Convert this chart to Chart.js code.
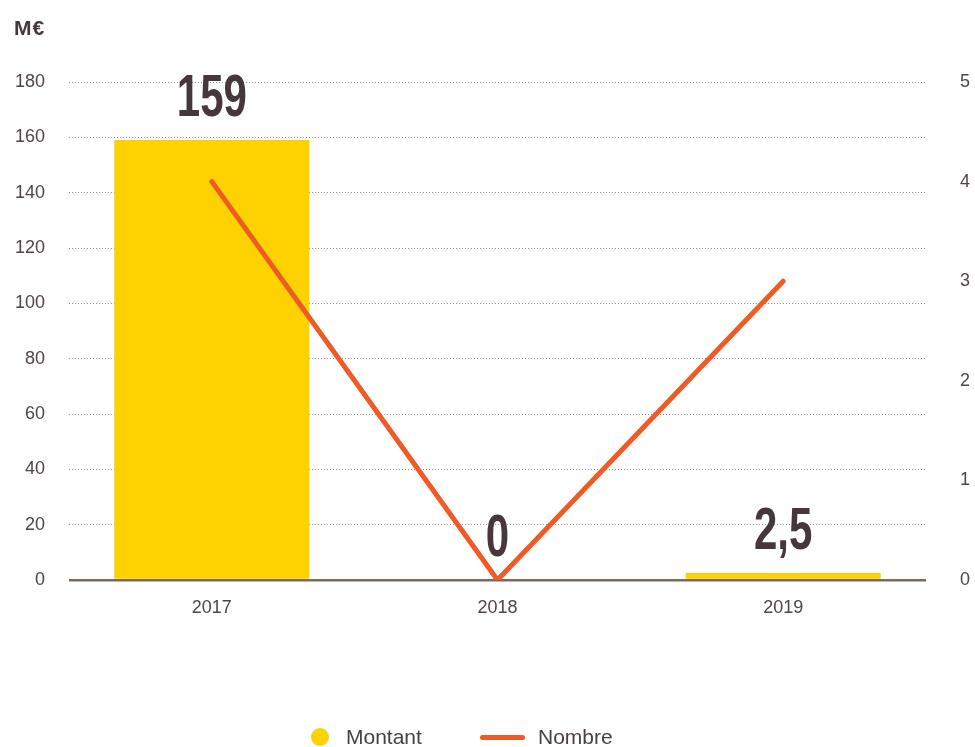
<!DOCTYPE html>
<html>
<head>
<meta charset="utf-8">
<script src="https://cdn.jsdelivr.net/npm/chart.js@4"></script>
<style>
  body { margin: 0; background: #fff; }
  #wrap { position: relative; width: 975px; height: 747px; }
  #unit { position: absolute; left: 14px; top: 16px; font: bold 21px "Liberation Sans", Arial, sans-serif; color: #45373a; letter-spacing: 1px; }
  #legend { position: absolute; top: 724px; left: 0; width: 975px; height: 26px; font: 21px "Liberation Sans", Arial, sans-serif; color: #4a4042; }
  .lg { position: absolute; top: 0; line-height: 26px; }
  .dot { position: absolute; left: 311px; top: 4px; width: 18px; height: 18px; border-radius: 50%; background: #FDD200; }
  .ln { position: absolute; left: 480px; top: 11px; width: 45px; height: 5px; border-radius: 3px; background: #F05A24; }
</style>
</head>
<body>
<div id="wrap">
  <canvas id="myChart" width="975" height="747"></canvas>
  <div id="unit">M€</div>
  <div id="legend">
    <span class="dot"></span><span class="lg" style="left:346px">Montant</span>
    <span class="ln"></span><span class="lg" style="left:538px">Nombre</span>
  </div>
</div>
<script>
// Данные
let years = ["2017", "2018", "2019"];
let montant = [159, 0, 2.5];
let montantLabels = ["159", "0", "2,5"];
let nombre = [4, 0, 3];

// Подписи над столбцами (узкий жирный шрифт)
const barLabels = {
    id: 'barLabels',
    afterDatasetsDraw(chart) {
        let ctx = chart.ctx;
        let meta = chart.getDatasetMeta(1); // столбцы
        ctx.save();
        ctx.fillStyle = '#45373a';
        ctx.font = 'bold 60px "Liberation Sans", Arial, sans-serif';
        ctx.textAlign = 'center';
        ctx.textBaseline = 'alphabetic';
        meta.data.forEach((bar, i) => {
            ctx.save();
            ctx.translate(bar.x, bar.y - 24);
            ctx.scale(0.7, 1);
            ctx.fillText(montantLabels[i], 0, 0);
            ctx.restore();
        });
        ctx.restore();
    }
};

let ctx = document.getElementById('myChart').getContext('2d');
let myChart = new Chart(ctx, {
    data: {
        labels: years,
        datasets: [{
            type: 'line',
            label: 'Nombre',
            data: nombre,
            yAxisID: 'y1',
            borderColor: '#F05A24',
            borderWidth: 5,
            borderCapStyle: 'round',
            pointRadius: 0,
            tension: 0,
            order: 0
        }, {
            type: 'bar',
            label: 'Montant',
            data: montant,
            yAxisID: 'y',
            backgroundColor: '#FDD200',
            categoryPercentage: 0.683,
            barPercentage: 1,
            order: 1
        }]
    },
    options: {
        responsive: false,
        animation: false,
        layout: { padding: { top: 82, left: 0, right: 0, bottom: 0 } },
        plugins: { legend: { display: false }, tooltip: { enabled: false } },
        scales: {
            x: {
                grid: { display: false },
                border: { display: false },
                ticks: { color: '#4f4547', font: { family: '"Liberation Sans", Arial, sans-serif', size: 18 }, padding: 9 },
                afterFit(scale) { scale.height = 167; }
            },
            y: {
                position: 'left',
                min: 0, max: 180,
                ticks: { stepSize: 20, color: '#4f4547', font: { family: '"Liberation Sans", Arial, sans-serif', size: 18 }, padding: 24 },
                grid: {
                    drawTicks: false,
                    color: c => c.tick && c.tick.value === 0 ? '#7a6a64' : '#9a8a88',
                    lineWidth: c => c.tick && c.tick.value === 0 ? 2.5 : 1
                },
                border: { display: false, dash: c => c.tick && c.tick.value === 0 ? [] : [1, 2] },
                afterFit(scale) { scale.width = 69; }
            },
            y1: {
                position: 'right',
                min: 0, max: 5,
                ticks: { stepSize: 1, color: '#4f4547', font: { family: '"Liberation Sans", Arial, sans-serif', size: 18 }, padding: 34 },
                grid: { display: false, drawTicks: false },
                border: { display: false },
                afterFit(scale) { scale.width = 49; }
            }
        }
    },
    plugins: [barLabels]
});
</script>
</body>
</html>
